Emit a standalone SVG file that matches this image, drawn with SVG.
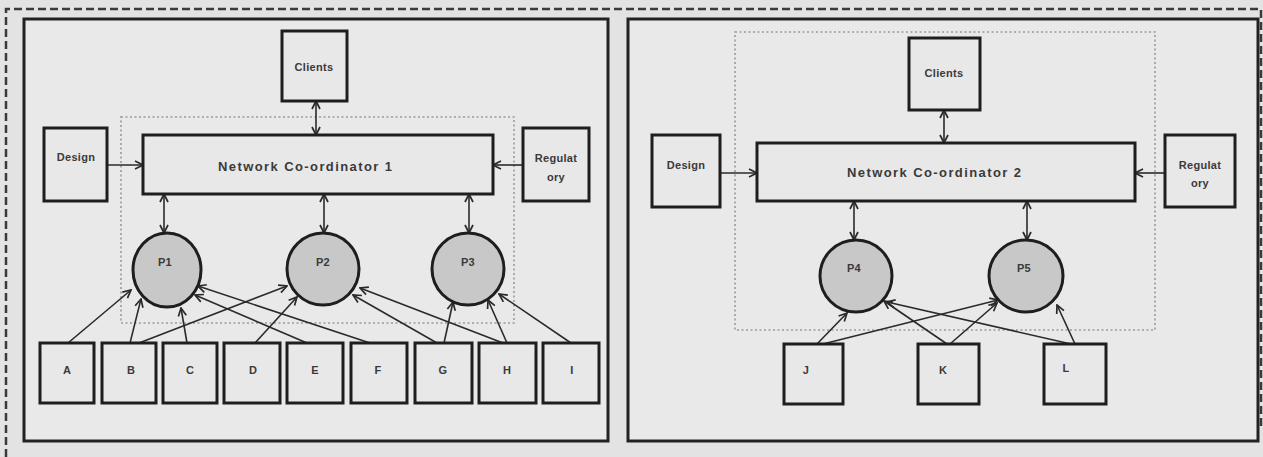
<svg xmlns="http://www.w3.org/2000/svg" width="1263" height="457" viewBox="0 0 1263 457">
<style>
.bg{fill:#e3e3e3}
.panel{fill:#e9e9e9;stroke:#222;stroke-width:3}
.box{fill:#e8e8e8;stroke:#1e1e1e;stroke-width:3}
.circ{fill:#c8c8c8;stroke:#1e1e1e;stroke-width:3}
.dot{fill:none;stroke:#9a9a9a;stroke-width:1.6;stroke-dasharray:2 2.5}
.outer{fill:none;stroke:#3a3a3a;stroke-width:2.5;stroke-dasharray:8 4}
.t{font-family:"Liberation Sans",Arial,sans-serif;font-weight:bold;font-size:11px;letter-spacing:0.3px;fill:#3a3a3a;text-anchor:middle}
.tl{font-family:"Liberation Sans",Arial,sans-serif;font-weight:bold;font-size:13px;fill:#3a3a3a}
.c{fill:none;stroke:#2a2a2a;stroke-width:1.6}
</style>
<defs>
<marker id="ah" viewBox="0 0 10 10" refX="9" refY="5" markerWidth="10" markerHeight="10" markerUnits="userSpaceOnUse" orient="auto-start-reverse">
<path d="M1,1 L9,5 L1,9" fill="none" stroke="#2a2a2a" stroke-width="1.7"/>
</marker>
</defs>
<rect class="bg" x="0" y="0" width="1263" height="457"/>
<path class="outer" d="M6,457 L6,9 L1261,9 L1261,430"/>
<g id="panel-left"><rect class="panel" x="24" y="19" width="584" height="422"/></g>
<g id="panel-right"><rect class="panel" x="628" y="19" width="630" height="422"/></g>
<g id="boundary-left"><rect class="dot" x="121" y="117" width="393" height="206"/></g>
<g id="boundary-right"><rect class="dot" x="735" y="32" width="420" height="298"/></g>

<g id="connectors">
<line class="c" x1="316" y1="101" x2="316" y2="135" marker-start="url(#ah)" marker-end="url(#ah)"/>
<line class="c" x1="107" y1="165" x2="143" y2="165" marker-end="url(#ah)"/>
<line class="c" x1="523" y1="165" x2="493" y2="165" marker-end="url(#ah)"/>
<line class="c" x1="164" y1="194" x2="164" y2="233" marker-start="url(#ah)" marker-end="url(#ah)"/>
<line class="c" x1="324" y1="194" x2="324" y2="233" marker-start="url(#ah)" marker-end="url(#ah)"/>
<line class="c" x1="469" y1="194" x2="469" y2="233" marker-start="url(#ah)" marker-end="url(#ah)"/>
<line class="c" x1="68" y1="343" x2="131" y2="290" marker-end="url(#ah)"/>
<line class="c" x1="130" y1="343" x2="141" y2="299" marker-end="url(#ah)"/>
<line class="c" x1="139" y1="343" x2="287" y2="286" marker-end="url(#ah)"/>
<line class="c" x1="187" y1="343" x2="181" y2="308" marker-end="url(#ah)"/>
<line class="c" x1="255" y1="343" x2="297" y2="297" marker-end="url(#ah)"/>
<line class="c" x1="307" y1="343" x2="195" y2="295" marker-end="url(#ah)"/>
<line class="c" x1="370" y1="343" x2="198" y2="286" marker-end="url(#ah)"/>
<line class="c" x1="437" y1="343" x2="353" y2="295" marker-end="url(#ah)"/>
<line class="c" x1="444" y1="343" x2="453" y2="302" marker-end="url(#ah)"/>
<line class="c" x1="503" y1="343" x2="360" y2="288" marker-end="url(#ah)"/>
<line class="c" x1="507" y1="343" x2="488" y2="300" marker-end="url(#ah)"/>
<line class="c" x1="571" y1="343" x2="499" y2="294" marker-end="url(#ah)"/>

<line class="c" x1="944" y1="110" x2="944" y2="143" marker-start="url(#ah)" marker-end="url(#ah)"/>
<line class="c" x1="721" y1="173" x2="757" y2="173" marker-end="url(#ah)"/>
<line class="c" x1="1165" y1="173" x2="1135" y2="173" marker-end="url(#ah)"/>
<line class="c" x1="854" y1="201" x2="854" y2="240" marker-start="url(#ah)" marker-end="url(#ah)"/>
<line class="c" x1="1027" y1="201" x2="1027" y2="240" marker-start="url(#ah)" marker-end="url(#ah)"/>
<line class="c" x1="817" y1="344" x2="847" y2="313" marker-end="url(#ah)"/>
<line class="c" x1="823" y1="344" x2="998" y2="300" marker-end="url(#ah)"/>
<line class="c" x1="947" y1="344" x2="884" y2="301" marker-end="url(#ah)"/>
<line class="c" x1="950" y1="344" x2="997" y2="303" marker-end="url(#ah)"/>
<line class="c" x1="1071" y1="344" x2="887" y2="302" marker-end="url(#ah)"/>
<line class="c" x1="1075" y1="344" x2="1057" y2="305" marker-end="url(#ah)"/>
</g>

<g id="clients-1"><rect class="box" x="282" y="31" width="65" height="70"/><text class="t" x="314" y="71">Clients</text></g>
<g id="design-1"><rect class="box" x="44" y="128" width="63" height="73"/><text class="t" x="76" y="161">Design</text></g>
<g id="regulatory-1"><rect class="box" x="523" y="128" width="66" height="73"/><text class="t" x="556" y="162">Regulat</text><text class="t" x="556" y="181">ory</text></g>
<g id="nc-1"><rect class="box" x="143" y="135" width="350" height="59"/><text class="tl" x="218" y="171" textLength="174" lengthAdjust="spacing">Network Co-ordinator 1</text></g>
<g id="p1"><ellipse class="circ" cx="167" cy="270" rx="34" ry="37"/><text class="t" x="165" y="266">P1</text></g>
<g id="p2"><ellipse class="circ" cx="323" cy="269" rx="36" ry="36"/><text class="t" x="323" y="266">P2</text></g>
<g id="p3"><ellipse class="circ" cx="468" cy="269" rx="36" ry="36"/><text class="t" x="468" y="266">P3</text></g>
<g id="a"><rect class="box" x="40" y="343" width="54" height="60"/><text class="t" x="67" y="374">A</text></g>
<g id="b"><rect class="box" x="102" y="343" width="54" height="60"/><text class="t" x="131" y="374">B</text></g>
<g id="c"><rect class="box" x="163" y="343" width="54" height="60"/><text class="t" x="190" y="374">C</text></g>
<g id="d"><rect class="box" x="224" y="343" width="56" height="60"/><text class="t" x="253" y="374">D</text></g>
<g id="e"><rect class="box" x="287" y="343" width="56" height="60"/><text class="t" x="315" y="374">E</text></g>
<g id="f"><rect class="box" x="351" y="343" width="56" height="60"/><text class="t" x="378" y="374">F</text></g>
<g id="g"><rect class="box" x="415" y="343" width="57" height="60"/><text class="t" x="443" y="374">G</text></g>
<g id="h"><rect class="box" x="479" y="343" width="57" height="60"/><text class="t" x="507" y="374">H</text></g>
<g id="i"><rect class="box" x="543" y="343" width="56" height="60"/><text class="t" x="572" y="374">I</text></g>

<g id="clients-2"><rect class="box" x="909" y="38" width="71" height="72"/><text class="t" x="944" y="77">Clients</text></g>
<g id="design-2"><rect class="box" x="652" y="135" width="68" height="72"/><text class="t" x="686" y="169">Design</text></g>
<g id="regulatory-2"><rect class="box" x="1165" y="135" width="70" height="72"/><text class="t" x="1200" y="169">Regulat</text><text class="t" x="1200" y="187">ory</text></g>
<g id="nc-2"><rect class="box" x="757" y="143" width="378" height="58"/><text class="tl" x="847" y="177" textLength="174" lengthAdjust="spacing">Network Co-ordinator 2</text></g>
<g id="p4"><ellipse class="circ" cx="856" cy="276" rx="36" ry="36"/><text class="t" x="854" y="272">P4</text></g>
<g id="p5"><ellipse class="circ" cx="1026" cy="276" rx="37" ry="36"/><text class="t" x="1024" y="272">P5</text></g>
<g id="j"><rect class="box" x="784" y="344" width="59" height="60"/><text class="t" x="806" y="374">J</text></g>
<g id="k"><rect class="box" x="918" y="344" width="61" height="60"/><text class="t" x="943" y="374">K</text></g>
<g id="l"><rect class="box" x="1044" y="344" width="62" height="60"/><text class="t" x="1066" y="372">L</text></g>
</svg>
